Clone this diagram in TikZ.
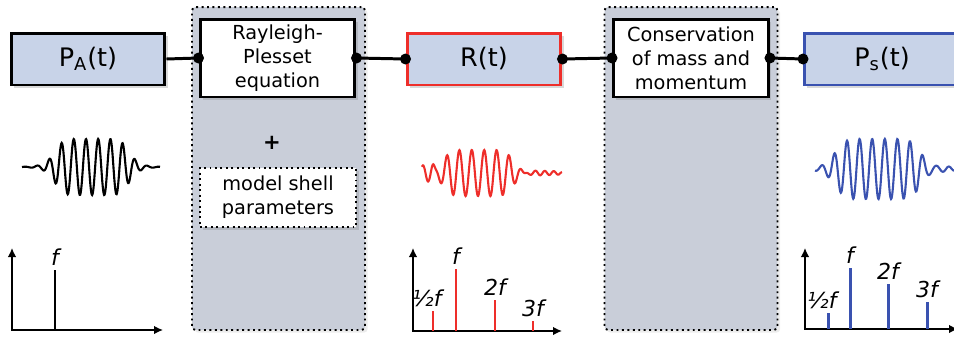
\documentclass[tikz,border=0pt]{standalone}
\usepackage{fontspec}
\setmainfont{DejaVu Sans}
\usetikzlibrary{arrows.meta, shadows}
\definecolor{cbox}{HTML}{C8D3E8}
\definecolor{cpanel}{HTML}{C9CED9}
\definecolor{cred}{HTML}{EE2E2A}
\definecolor{cblue}{HTML}{3A52B0}
\tikzset{
  every picture/.style={line width=1.7pt},
  sigbox/.style={draw=#1, fill=cbox, minimum width=3.08cm, minimum height=1.04cm, inner sep=0pt,
    font=\fontsize{14.5}{17}\selectfont, drop shadow={shadow xshift=1.5pt, shadow yshift=-1.5pt, opacity=.3}},
  sigbox/.default=black,
  eqbox/.style={draw, fill=white, minimum width=3.1cm, minimum height=1.56cm, inner sep=0pt, align=center,
    font=\fontsize{11}{13.6}\selectfont, drop shadow={shadow xshift=1.5pt, shadow yshift=-1.5pt, opacity=.3}},
  panel/.style={draw, dotted, line width=1.1pt, fill=cpanel, rounded corners=2pt, minimum width=3.46cm,
    minimum height=6.46cm, drop shadow={shadow xshift=1.5pt, shadow yshift=-1.5pt, opacity=.15}},
  shellbox/.style={draw, dotted, line width=1.1pt, fill=white, minimum width=3.12cm, minimum height=1.18cm,
    inner sep=0pt, align=center, font=\fontsize{11}{13.6}\selectfont,
    drop shadow={shadow xshift=1.5pt, shadow yshift=-1.5pt, opacity=.3}},
  joint/.style={fill=black},
  wave/.style={line width=1.2pt, draw=#1},
  axis/.style={{Latex[length=1.8mm,width=1.7mm]}-{Latex[length=1.8mm,width=1.7mm]}, line width=0.8pt},
  peak/.style={line width=1.7pt, draw=#1},
  flabel/.style={font=\fontsize{12.5}{14}\selectfont\itshape, inner sep=0pt, anchor=south, yshift=0.06cm},
  declare function={eighthpow(\v)=(\v*\v)*(\v*\v)*(\v*\v)*(\v*\v);
    env(\u)=1/(1+eighthpow(min(abs(\u),3)));},
}

\begin{document}
\begin{tikzpicture}[x=0.02cm, y=-0.02cm]
  \useasboundingbox (0,0) rectangle (954,339);
  % grey panels behind the model blocks
  \node[panel] (pnl1) at (278.5,168.5) {};
  \node[panel] (pnl2) at (691,168.5) {};

  % signal chain
  \node[sigbox] (pa) at (88,59) {P\textsubscript{A}(t)};
  \node[eqbox] (ray) at (277.5,58) {Rayleigh-\\Plesset\\equation};
  \node[sigbox=cred] (rt) at (484,59) {R(t)};
  \node[eqbox] (cons) at (691,58) {Conservation\\of mass and\\momentum};
  \node[sigbox=cblue, minimum width=3.1cm] (ps) at (882,59) {P\textsubscript{s}(t)};

  \node[font=\fontsize{12}{14}\selectfont\bfseries] (plus) at (272,143) {+};
  \node[shellbox] (shell) at (278,197.5) {model shell\\parameters};

  \draw (pa.east) -- (ray.west);
  \draw (ray.east) -- (rt.west);
  \draw (rt.east) -- (cons.west);
  \draw (cons.east) -- (ps.west);
  \foreach \n in {ray.west, ray.east, rt.west, rt.east, cons.west, cons.east, ps.west}
    \fill[joint] (\n) circle (0.11cm);

  % time signals
  \draw[wave=black] plot[domain=22:160, samples=300, smooth]
    (\x, {167-28*env((\x-92)/38)*cos(360*((\x-86)/12.2))});
  \draw[wave=cred] plot[domain=422:562, samples=300, smooth]
    (\x, {173-23*env((\x-478)/36)*cos(360*((\x-447)/12.4))-7*env((\x-427)/8)*cos(360*((\x-423)/10))
      +2*env((\x-542)/20)*sin(360*((\x-520)/9))});
  \draw[wave=cblue] plot[domain=815:958, samples=300, smooth]
    (\x, {169-30*env((\x-878)/44)*cos(360*((\x-847)/12.6))+2*env((\x-940)/15)*sin(360*((\x-930)/11))});

  % spectra
  \draw[axis] (12,248) |- (163,330);
  \draw[peak=black] (55,330) -- (55,270);
  \node[flabel] (fa) at (55,270) {f};

  \draw[axis] (413,248) |- (562,331);
  \foreach \xx/\yy in {433/311, 456/269, 495/300, 533/321}
    \draw[peak=cred] (\xx,331) -- (\xx,\yy);
  \node[flabel, xshift=-0.12cm] (rh) at (433,311) {½f};
  \node[flabel] (rf) at (456,269) {f};
  \node[flabel] (r2) at (495,300) {2f};
  \node[flabel] (r3) at (533,321) {3f};

  \draw[axis] (805,248) |- (958,329);
  \foreach \xx/\yy in {828/313, 850/268, 888/284, 927/302}
    \draw[peak=cblue] (\xx,329) -- (\xx,\yy);
  \node[flabel, xshift=-0.12cm] (bh) at (828,313) {½f};
  \node[flabel] (bf) at (850,268) {f};
  \node[flabel] (b2) at (888,284) {2f};
  \node[flabel] (b3) at (927,302) {3f};
\end{tikzpicture}
\end{document}
